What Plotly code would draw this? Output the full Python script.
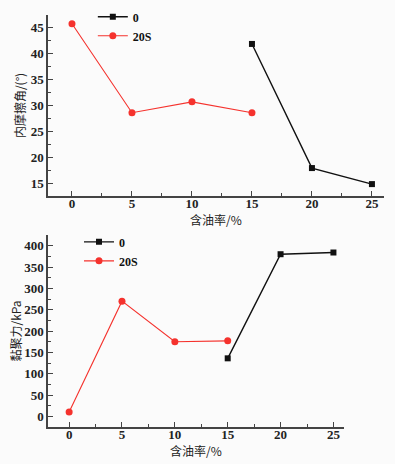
import plotly.graph_objects as go

# data
oil_20s = [0, 5, 10, 15]
oil_0 = [15, 20, 25]
phi_20s = [45.8, 28.6, 30.7, 28.6]
phi_0 = [41.9, 17.9, 14.8]
c_20s = [10, 270, 175, 177]
c_0 = [136, 380, 384]
names = ["0", "20S"]
x_ticks = [0, 5, 10, 15, 20, 25]

SERIF = "Liberation Serif"
CJK = "Noto Sans CJK SC"
RED = "#f5322d"
BLK = "#111111"
AX = "#444444"

fig = go.Figure()

def add(x, y, name, color, sym, size, width, xa, ya, legend):
    fig.add_trace(go.Scatter(
        x=x, y=y, name=name, mode="lines+markers",
        line=dict(color=color, width=width),
        marker=dict(symbol=sym, size=size, color=color),
        xaxis=xa, yaxis=ya, legend=legend))

add(oil_0, phi_0, names[0], BLK, "square", 6, 1.4, "x", "y", "legend")
add(oil_20s, phi_20s, names[1], RED, "circle", 7, 1.1, "x", "y", "legend")
add(oil_0, c_0, names[0], BLK, "square", 6, 1.4, "x2", "y2", "legend2")
add(oil_20s, c_20s, names[1], RED, "circle", 7, 1.1, "x2", "y2", "legend2")

tickfont = dict(family=SERIF, size=13, color="#222", weight="bold")
titlefont = dict(family=CJK, size=12, color="#222")
common = dict(showline=True, linecolor=AX, linewidth=1.5, ticks="inside",
              ticklen=5, tickwidth=1.2, tickcolor=AX, showgrid=False,
              zeroline=False, mirror=False, automargin=False, tickfont=tickfont)
minor_x = dict(dtick=2.5, ticks="inside", ticklen=3, tickcolor=AX)

fig.update_layout(
    width=395, height=464, margin=dict(l=0, r=0, t=0, b=0),
    paper_bgcolor="#fbfbfb", plot_bgcolor="#fbfbfb",
    xaxis=dict(domain=[0.1215, 0.972], anchor="y", range=[-2, 26],
               tickvals=x_ticks, minor=minor_x, ticklabelstandoff=-5,
               title=dict(text="含油率/%", font=titlefont, standoff=0),
               **common),
    yaxis=dict(domain=[0.5776, 0.9677], anchor="x", range=[12.5, 47.5],
               tickvals=[15, 20, 25, 30, 35, 40, 45],
               minor=dict(dtick=2.5, ticks="inside", ticklen=3, tickcolor=AX),
               title=dict(text="内摩擦角/(°)", font=titlefont, standoff=2),
               **common),
    xaxis2=dict(domain=[0.1215, 0.8709], anchor="y2", range=[-2, 26],
                tickvals=x_ticks, minor=minor_x, ticklabelstandoff=-5,
                title=dict(text="含油率/%", font=titlefont, standoff=0),
                **common),
    yaxis2=dict(domain=[0.0797, 0.4935], anchor="x2", range=[-25, 425],
                tickvals=list(range(0, 401, 50)),
                minor=dict(dtick=25, ticks="inside", ticklen=3, tickcolor=AX),
                title=dict(text="黏聚力/kPa", font=titlefont, standoff=0),
                **common),
    legend=dict(x=0.235, y=0.995, xanchor="left", yanchor="top",
                bgcolor="rgba(0,0,0,0)", font=dict(family=SERIF, size=12, color="#111", weight="bold"),
                tracegroupgap=0, itemwidth=30),
    legend2=dict(x=0.2, y=0.51, xanchor="left", yanchor="top",
                 bgcolor="rgba(0,0,0,0)", font=dict(family=SERIF, size=12, color="#111", weight="bold"),
                 tracegroupgap=0, itemwidth=30),
)

fig.write_html("out.html", config={"displayModeBar": False},
               post_script="document.body.style.margin='0';document.body.style.padding='0';")
